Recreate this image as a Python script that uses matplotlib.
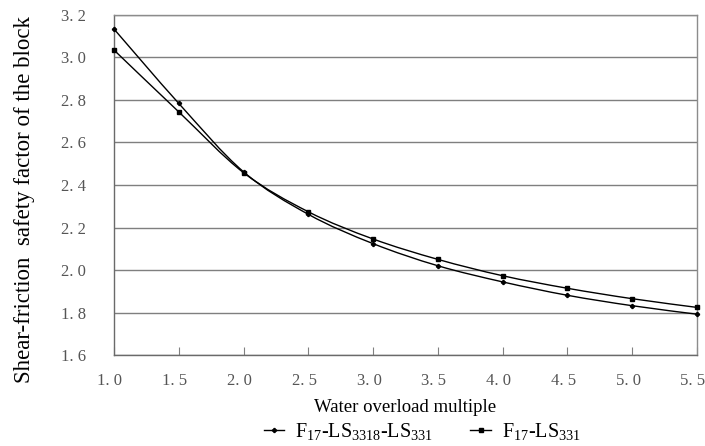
import numpy as np
import matplotlib.pyplot as plt
import matplotlib.transforms as mtransforms
from matplotlib.path import Path
from matplotlib.patches import PathPatch
from matplotlib.lines import Line2D

# water overload multiple
x = [1.0, 1.5, 2.0, 2.5, 3.0, 3.5, 4.0, 4.5, 5.0, 5.5]
# F17-LS3318-LS331
ls3318 = [3.134, 2.784, 2.462, 2.262, 2.124, 2.020, 1.944, 1.881, 1.832, 1.792]
# F17-LS331
ls331 = [3.035, 2.744, 2.458, 2.274, 2.146, 2.050, 1.973, 1.914, 1.865, 1.824]

xticks = [1.0, 1.5, 2.0, 2.5, 3.0, 3.5, 4.0, 4.5, 5.0, 5.5]
yticks = [1.6, 1.8, 2.0, 2.2, 2.4, 2.6, 2.8, 3.0, 3.2]

serif = 'Liberation Serif'
plt.rcParams['mathtext.fontset'] = 'custom'
plt.rcParams['mathtext.rm'] = serif


def smooth_path(xs, ys, t=1/6):
    # excel-like smoothed line: cubic bezier segments through the points
    pts = np.column_stack([xs, ys])
    verts = [pts[0]]
    codes = [Path.MOVETO]
    n = len(pts)
    for i in range(n - 1):
        p0 = pts[i - 1] if i > 0 else pts[i]
        p1 = pts[i]
        p2 = pts[i + 1]
        p3 = pts[i + 2] if i + 2 < n else pts[i + 1]
        c1 = p1 + (p2 - p0) * t
        c2 = p2 - (p3 - p1) * t
        verts += [c1, c2, p2]
        codes += [Path.CURVE4] * 3
    return Path(verts, codes)


def lab(v):
    s = '%.1f' % v
    return s.replace('.', '. ')


fig = plt.figure(figsize=(7.05, 4.46), dpi=100)
fig.patch.set_facecolor('white')
ax = fig.add_axes([0.1617, 0.204, 0.827, 0.7624])

for ys, mk, ms in [(ls3318, 'P', 2.8), (ls331, 's', 3.2)]:
    ax.add_patch(PathPatch(smooth_path(x, ys), fill=False, ec='black', lw=1.0, zorder=3))
    ax.plot(x, ys, ls='none', marker=mk, ms=ms, color='black', zorder=4, clip_on=False)

ax.set_xlim(1.0, 5.5)
ax.set_ylim(1.6, 3.2)
ax.set_xticks(xticks)
ax.set_yticks(yticks)
ax.set_xticklabels([lab(v) for v in xticks], fontfamily=serif, fontsize=12, color='#555555')
ax.set_yticklabels([lab(v) for v in yticks], fontfamily=serif, fontsize=12, color='#555555')
ax.tick_params(axis='x', direction='in', length=6, color='#808080', pad=13)
ax.tick_params(axis='y', length=0, pad=20)
# the reference labels sit a little left of their ticks
shift = mtransforms.ScaledTranslation(-4 / 100, 0, fig.dpi_scale_trans)
for t in ax.get_xticklabels():
    t.set_transform(t.get_transform() + shift)
ax.yaxis.grid(True, color='#7f7f7f', lw=1.0)
ax.set_axisbelow(True)
for s in ax.spines.values():
    s.set_color('#8c8c8c')
    s.set_linewidth(1.0)
ax.spines['left'].set_color('#6a6a6a')
ax.spines['bottom'].set_color('#6a6a6a')

ax.set_xlabel('Water overload multiple', fontfamily=serif, fontsize=13.5, labelpad=7)
ax.set_ylabel('Shear-friction  safety factor of the block', fontfamily=serif, fontsize=16.5,
              va='center')
ax.yaxis.set_label_coords(-0.153, 0.456)

handles = [
    Line2D([], [], color='black', lw=1.0, marker='P', ms=2.8),
    Line2D([], [], color='black', lw=1.0, marker='s', ms=3.2),
]
labels = ['F$_{17}$-LS$_{3318}$-LS$_{331}$', 'F$_{17}$-LS$_{331}$']
fig.legend(handles, labels, loc='center', bbox_to_anchor=(0.599, 0.031), ncol=2, frameon=False,
           prop={'family': serif, 'size': 14.5}, handlelength=1.0, columnspacing=1.85, handletextpad=0.55)

fig.savefig('out.png', dpi=100)
